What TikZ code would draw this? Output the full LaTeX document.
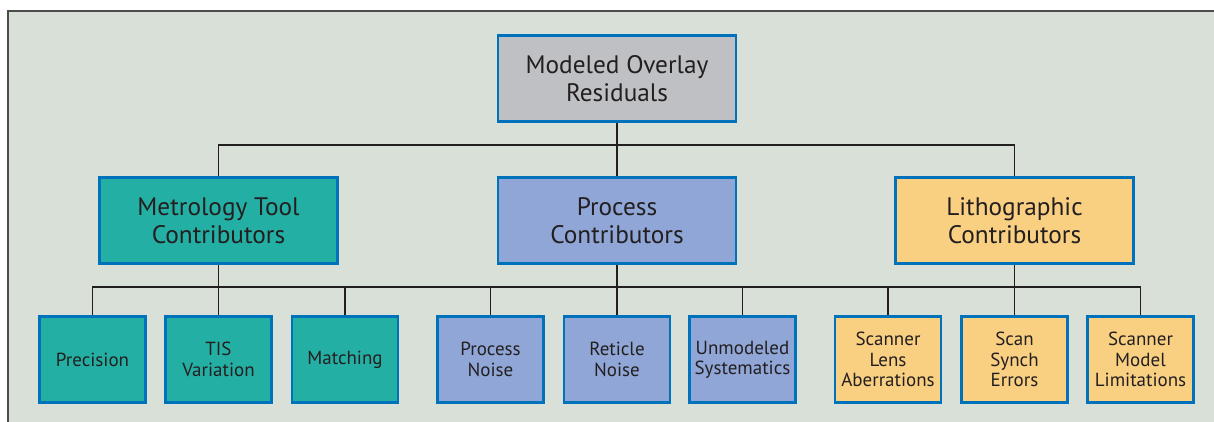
\documentclass[tikz,border=0pt]{standalone}
\usepackage{fontspec}
\setmainfont{PT Sans}
\definecolor{panelbg}{HTML}{D9E0D8}
\definecolor{rootfill}{HTML}{BFC0C4}
\definecolor{metrofill}{HTML}{23AFA3}
\definecolor{procfill}{HTML}{8FA6D6}
\definecolor{lithofill}{HTML}{F9D082}
\definecolor{boxedge}{HTML}{0072BC}
\definecolor{inkgray}{HTML}{231F20}
\tikzset{
  topbox/.style={draw=boxedge,line width=2pt,minimum width=5.95cm,minimum height=2.15cm,
    inner sep=0pt,align=center,text=inkgray,font=\fontsize{18}{20}\selectfont},
  leafbox/.style={draw=boxedge,line width=2pt,minimum width=2.65cm,minimum height=2.15cm,
    inner sep=0pt,align=center,text=inkgray,font=\fontsize{13.5}{14.5}\selectfont},
  link/.style={draw=inkgray,line width=1.1pt}
}
\begin{document}
\begin{tikzpicture}[x=0.025cm,y=-0.025cm]
\useasboundingbox (0,0) rectangle (1214,421);
\draw[fill=panelbg,draw=black!70,line width=1.2pt] (8,11) rectangle (1240,440);

% top levels
\node[topbox,fill=rootfill] (root) at (617,78.5) {Modeled Overlay\\Residuals};
\node[topbox,fill=metrofill] (metro) at (218.5,220.5) {Metrology Tool\\Contributors};
\node[topbox,fill=procfill] (proc) at (617,220.5) {Process\\Contributors};
\node[topbox,fill=lithofill] (litho) at (1014.5,220.5) {Lithographic\\Contributors};

% leaves
\node[leafbox,fill=metrofill] (prec) at (92.5,359.5) {Precision};
\node[leafbox,fill=metrofill] (tis) at (218.5,359.5) {TIS\\Variation};
\node[leafbox,fill=metrofill] (match) at (345,359.5) {Matching};
\node[leafbox,fill=procfill] (pnoise) at (490.5,359.5) {Process\\Noise};
\node[leafbox,fill=procfill] (rnoise) at (617,359.5) {Reticle\\Noise};
\node[leafbox,fill=procfill] (unmod) at (742.5,359.5) {Unmodeled\\Systematics};
\node[leafbox,fill=lithofill] (lens) at (888,359.5) {Scanner\\Lens\\Aberrations};
\node[leafbox,fill=lithofill] (synch) at (1014.5,359.5) {Scan\\Synch\\Errors};
\node[leafbox,fill=lithofill] (smodel) at (1140.5,359.5) {Scanner\\Model\\Limitations};

\coordinate (busA) at (617,145);
\coordinate (busB) at (617,287);

\draw[link] (root.south) -- (proc.north);
\draw[link] (metro.north) |- (busA) -| (litho.north);
\draw[link] (prec.north) |- (busB) -| (smodel.north);
\draw[link] (metro.south) -- (tis.north);
\draw[link] (proc.south) -- (rnoise.north);
\draw[link] (litho.south) -- (synch.north);
\foreach \n in {match,pnoise,unmod,lens}
  \draw[link] (\n.north) -- (\n.north |- busB);
\end{tikzpicture}
\end{document}
